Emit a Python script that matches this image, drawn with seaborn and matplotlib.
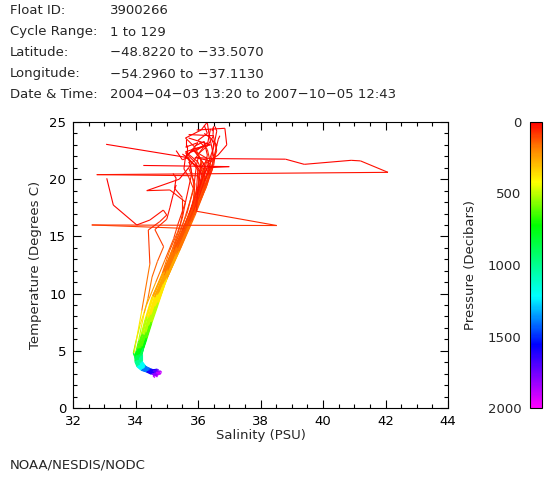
import numpy as np
import matplotlib
matplotlib.use("Agg")
import matplotlib.pyplot as plt
import seaborn as sns
from matplotlib.collections import LineCollection
from matplotlib.colors import LinearSegmentedColormap, Normalize

# Cabeçalho do perfil
header_labels = ["Float ID:", "Cycle Range:", "Latitude:", "Longitude:", "Date & Time:"]
header_values = ["3900266", "1 to 129", "\u221248.8220 to \u221233.5070",
                 "\u221254.2960 to \u221237.1130",
                 "2004\u221204\u221203 13:20 to 2007\u221210\u221205 12:43"]

# Níveis de pressão padrão (dbar)
levels = [5, 15, 30, 60, 90, 120, 170, 250, 380, 500, 620, 750, 880, 1000,
          1200, 1400, 1600, 1700, 1800, 1900, 2000]

# Perfis: pressão, salinidade e temperatura
pressure_profiles = [levels] * 26 + [
    [5, 10, 15, 20, 25, 30, 35, 45, 60, 90, 120, 170, 250, 380, 500, 620, 750,
     880, 1000, 1200, 1400, 1600, 1800, 2000],
    [5, 15, 30, 45, 60, 75, 90, 120, 170, 250, 380, 500, 620, 750, 880, 1000,
     1200, 1400, 1600, 1800, 2000],
    levels,
    [5, 10, 20, 30, 40, 50, 60, 80, 170, 380, 880, 1000, 1200, 1400, 1600, 1800, 2000],
    [5, 8, 12, 18, 25, 30, 45, 60, 90, 120, 170, 250, 380, 500, 620, 750, 880,
     1000, 1200, 1400, 1600, 1800, 2000],
    [5, 10, 15, 30, 60, 90, 120, 170, 250, 380, 500, 620, 750, 880, 1000, 1200,
     1400, 1600, 1800, 2000],
    [5, 15, 30, 45, 60, 90, 120, 170, 250, 380, 500, 620, 750, 880, 1000, 1200,
     1400, 1600, 1800, 2000],
    [5, 15, 30, 60, 90, 120, 145, 170, 250, 380, 500, 620, 750, 880, 1000, 1200,
     1400, 1600, 1800, 2000],
]

salinity_profiles = [
    [36.55, 36.6, 36.5, 36.15, 35.85, 35.62, 35.3, 35.02, 34.72, 34.5, 34.33, 34.2, 34.12, 34.08, 34.12, 34.26, 34.42, 34.55, 34.62, 34.7, 34.74],
    [36.45, 36.5, 36.45, 36.3, 36.0, 35.72, 35.38, 35.08, 34.78, 34.55, 34.38, 34.25, 34.16, 34.12, 34.15, 34.3, 34.45, 34.6, 34.7, 34.76, 34.8],
    [36.35, 36.35, 36.34, 36.3, 36.05, 35.8, 35.45, 35.12, 34.82, 34.58, 34.4, 34.27, 34.18, 34.14, 34.18, 34.32, 34.48, 34.58, 34.66, 34.74, 34.78],
    [35.8, 35.95, 36.1, 36.0, 35.75, 35.55, 35.25, 34.95, 34.62, 34.42, 34.28, 34.15, 34.06, 34.02, 34.06, 34.2, 34.36, 34.48, 34.56, 34.62, 34.66],
    [36.3, 36.35, 36.5, 36.45, 36.1, 35.82, 35.45, 35.12, 34.8, 34.55, 34.36, 34.22, 34.14, 34.1, 34.13, 34.28, 34.44, 34.56, 34.64, 34.72, 34.76],
    [36.05, 36.0, 35.95, 35.85, 35.6, 35.45, 35.15, 34.85, 34.5, 34.3, 34.16, 34.05, 34.0, 34.0, 34.06, 34.2, 34.36, 34.5, 34.6, 34.66, 34.7],
    [35.7, 35.75, 35.8, 35.6, 35.35, 35.22, 34.95, 34.65, 34.35, 34.15, 34.02, 33.93, 33.97, 34.02, 34.08, 34.22, 34.38, 34.5, 34.58, 34.64, 34.7],
    [36.7, 36.65, 36.55, 36.4, 36.15, 35.9, 35.55, 35.25, 34.95, 34.72, 34.52, 34.36, 34.26, 34.2, 34.22, 34.34, 34.5, 34.64, 34.72, 34.8, 34.84],
    [35.9, 36.2, 36.3, 36.05, 35.78, 35.58, 35.28, 34.98, 34.65, 34.45, 34.3, 34.18, 34.1, 34.06, 34.1, 34.24, 34.4, 34.52, 34.6, 34.68, 34.72],
    [36.2, 36.4, 36.6, 36.5, 36.25, 35.95, 35.58, 35.22, 34.9, 34.64, 34.44, 34.3, 34.2, 34.16, 34.18, 34.3, 34.46, 34.58, 34.68, 34.74, 34.78],
    [36.0, 36.1, 36.15, 36.1, 35.9, 35.65, 35.32, 35.0, 34.68, 34.46, 34.3, 34.18, 34.08, 34.05, 34.1, 34.24, 34.4, 34.52, 34.6, 34.66, 34.7],
    [36.3, 35.9, 36.2, 36.2, 35.95, 35.7, 35.36, 35.04, 34.74, 34.5, 34.35, 34.22, 34.13, 34.1, 34.14, 34.28, 34.44, 34.56, 34.66, 34.72, 34.76],
    [35.7, 36.4, 35.8, 36.3, 36.1, 35.8, 35.42, 35.1, 34.8, 34.56, 34.38, 34.25, 34.16, 34.12, 34.16, 34.3, 34.46, 34.56, 34.64, 34.7, 34.74],
    [35.5, 35.6, 35.8, 36.2, 35.95, 35.72, 35.4, 35.08, 34.76, 34.52, 34.36, 34.23, 34.14, 34.1, 34.13, 34.27, 34.43, 34.54, 34.62, 34.68, 34.72],
    [36.45, 36.5, 36.48, 36.6, 36.3, 36.0, 35.6, 35.23, 34.9, 34.65, 34.46, 34.32, 34.22, 34.18, 34.2, 34.32, 34.48, 34.6, 34.7, 34.78, 34.82],
    [35.6, 35.6, 35.9, 36.2, 35.95, 35.7, 35.36, 35.05, 34.7, 34.47, 34.32, 34.19, 34.1, 34.06, 34.1, 34.24, 34.4, 34.52, 34.6, 34.66, 34.7],
    [35.65, 35.65, 36.2, 35.7, 35.9, 35.85, 35.6, 35.28, 34.92, 34.68, 34.47, 34.32, 34.22, 34.17, 34.2, 34.32, 34.47, 34.58, 34.66, 34.72, 34.76],
    [36.3, 36.1, 35.6, 35.9, 36.1, 36.2, 35.75, 35.3, 34.95, 34.7, 34.5, 34.35, 34.25, 34.2, 34.22, 34.34, 34.5, 34.6, 34.68, 34.74, 34.78],
    [35.3, 35.5, 35.7, 35.8, 35.9, 35.8, 35.48, 35.15, 34.84, 34.6, 34.4, 34.26, 34.17, 34.12, 34.15, 34.28, 34.44, 34.56, 34.64, 34.7, 34.74],
    [35.7, 36.5, 36.3, 36.0, 36.35, 36.1, 35.7, 35.32, 34.96, 34.7, 34.5, 34.34, 34.24, 34.18, 34.2, 34.33, 34.48, 34.6, 34.7, 34.76, 34.8],
    [35.2, 35.3, 35.25, 35.5, 35.5, 35.42, 35.18, 34.9, 34.58, 34.38, 34.24, 34.12, 34.05, 34.02, 34.06, 34.2, 34.36, 34.48, 34.56, 34.62, 34.68],
    [36.4, 36.3, 35.6, 36.0, 36.2, 35.95, 35.55, 35.2, 34.88, 34.62, 34.42, 34.28, 34.2, 34.15, 34.18, 34.3, 34.45, 34.58, 34.66, 34.72, 34.76],
    [35.6, 35.6, 36.0, 35.65, 36.0, 36.05, 35.72, 35.35, 34.95, 34.68, 34.48, 34.32, 34.22, 34.16, 34.12, 34.3, 34.45, 34.7, 34.55, 34.8, 34.6],
    [36.2, 36.3, 36.0, 36.3, 36.4, 36.3, 35.9, 35.45, 35.02, 34.74, 34.52, 34.36, 34.26, 34.2, 34.2, 34.3, 34.42, 34.52, 34.64, 34.58, 34.75],
    [35.9, 35.6, 35.55, 35.7, 35.85, 35.65, 35.25, 34.9, 34.55, 34.35, 34.2, 34.08, 34.0, 33.98, 34.05, 34.18, 34.35, 34.5, 34.66, 34.56, 34.62],
    [36.4, 35.9, 36.5, 36.35, 36.3, 36.15, 35.8, 35.4, 35.0, 34.72, 34.5, 34.34, 34.24, 34.18, 34.17, 34.3, 34.46, 34.56, 34.74, 34.66, 34.82],
    [36.5, 38.8, 39.4, 40.9, 41.2, 42.08, 32.76, 36.0, 36.1, 35.9, 35.68, 35.34, 35.04, 34.74, 34.5, 34.34, 34.21, 34.12, 34.08, 34.12, 34.26, 34.42, 34.6, 34.7],
    [36.2, 36.2, 36.1, 36.0, 35.95, 38.52, 32.6, 35.6, 35.3, 35.0, 34.7, 34.48, 34.33, 34.2, 34.12, 34.08, 34.12, 34.26, 34.42, 34.58, 34.68],
    [33.06, 35.64, 36.0, 35.95, 35.72, 35.5, 35.2, 34.92, 34.6, 34.4, 34.26, 34.13, 34.05, 34.02, 34.07, 34.2, 34.36, 34.48, 34.56, 34.64, 34.7],
    [33.08, 33.29, 34.04, 34.46, 34.89, 35.0, 34.78, 34.41, 34.46, 34.2, 33.95, 34.02, 34.1, 34.24, 34.4, 34.58, 34.68],
    [35.96, 36.86, 36.92, 36.64, 36.3, 36.4, 36.2, 36.05, 35.85, 35.65, 35.34, 35.03, 34.7, 34.48, 34.33, 34.2, 34.1, 34.06, 34.1, 34.24, 34.4, 34.58, 34.7],
    [34.25, 37.0, 36.3, 36.2, 35.95, 35.7, 35.5, 35.22, 34.93, 34.62, 34.42, 34.28, 34.16, 34.07, 34.03, 34.08, 34.22, 34.38, 34.56, 34.68],
    [35.7, 35.4, 34.36, 35.1, 35.6, 35.5, 35.35, 35.1, 34.86, 34.55, 34.36, 34.22, 34.1, 34.02, 34.0, 34.06, 34.2, 34.36, 34.54, 34.66],
    [35.3, 35.2, 35.1, 35.0, 34.62, 34.9, 34.7, 34.53, 34.4, 34.28, 34.18, 34.1, 34.02, 33.98, 34.0, 34.06, 34.2, 34.36, 34.52, 34.64],
]

temperature_profiles = [
    [24.6, 24.2, 22.8, 19.9, 17.6, 16.2, 14.2, 12.2, 10.1, 8.3, 6.7, 5.5, 4.8, 4.3, 3.8, 3.45, 3.3, 3.2, 3.1, 3.0, 2.9],
    [23.4, 23.1, 22.0, 20.3, 18.2, 16.6, 14.5, 12.4, 10.3, 8.5, 6.9, 5.6, 4.9, 4.4, 3.85, 3.5, 3.3, 3.25, 3.15, 3.05, 2.95],
    [21.2, 21.1, 21.0, 20.6, 19.0, 17.2, 14.9, 12.7, 10.6, 8.6, 7.0, 5.7, 5.0, 4.4, 3.9, 3.5, 3.35, 3.2, 3.3, 3.1, 3.0],
    [22.6, 22.3, 21.7, 19.4, 17.1, 15.7, 13.8, 11.8, 9.8, 8.0, 6.5, 5.3, 4.7, 4.2, 3.7, 3.4, 3.25, 3.1, 3.0, 2.9, 2.8],
    [24.9, 24.0, 22.0, 20.8, 18.8, 16.9, 14.7, 12.5, 10.4, 8.4, 6.8, 5.5, 4.8, 4.3, 3.8, 3.45, 3.3, 3.2, 3.35, 3.2, 3.05],
    [22.0, 21.8, 21.2, 19.0, 16.8, 15.5, 13.6, 11.6, 9.5, 7.7, 6.2, 5.1, 4.6, 4.1, 3.65, 3.35, 3.2, 3.05, 2.95, 2.85, 2.75],
    [21.5, 21.3, 20.5, 18.0, 16.0, 14.8, 13.0, 11.0, 9.0, 7.3, 5.9, 4.8, 4.5, 4.1, 3.6, 3.3, 3.15, 3.05, 2.95, 2.85, 2.7],
    [23.8, 23.5, 22.4, 20.6, 18.6, 17.0, 15.0, 12.9, 10.9, 9.0, 7.4, 6.0, 5.2, 4.6, 4.0, 3.6, 3.4, 3.3, 3.2, 3.25, 3.1],
    [22.9, 23.3, 22.1, 19.6, 17.4, 16.0, 14.0, 12.0, 9.9, 8.1, 6.6, 5.4, 4.7, 4.2, 3.75, 3.4, 3.25, 3.15, 3.05, 2.95, 2.85],
    [24.0, 23.6, 23.0, 21.2, 19.2, 17.5, 15.2, 13.0, 10.8, 8.8, 7.1, 5.8, 5.0, 4.5, 3.9, 3.5, 3.35, 3.25, 3.15, 3.05, 2.95],
    [20.8, 20.6, 20.2, 19.3, 17.8, 16.3, 14.3, 12.2, 10.0, 8.2, 6.6, 5.4, 4.7, 4.2, 3.7, 3.4, 3.25, 3.1, 3.0, 2.9, 2.8],
    [23.2, 22.4, 21.3, 19.8, 17.9, 16.4, 14.4, 12.3, 10.2, 8.3, 6.8, 5.5, 4.8, 4.3, 3.8, 3.45, 3.3, 3.2, 3.1, 3.2, 3.0],
    [23.6, 23.0, 22.6, 21.8, 19.5, 17.3, 14.8, 12.6, 10.5, 8.6, 7.0, 5.7, 4.95, 4.4, 3.85, 3.5, 3.3, 3.2, 3.1, 3.0, 2.9],
    [22.2, 22.0, 21.4, 20.9, 18.3, 16.7, 14.6, 12.5, 10.3, 8.4, 6.8, 5.5, 4.8, 4.3, 3.8, 3.45, 3.3, 3.2, 3.1, 3.0, 2.9],
    [24.2, 24.6, 23.9, 22.5, 20.0, 17.8, 15.3, 13.0, 10.8, 8.9, 7.2, 5.9, 5.1, 4.5, 3.95, 3.55, 3.35, 3.25, 3.15, 3.1, 3.0],
    [21.9, 22.3, 21.5, 20.0, 18.0, 16.5, 14.4, 12.3, 10.1, 8.2, 6.6, 5.35, 4.7, 4.2, 3.7, 3.4, 3.25, 3.1, 3.0, 2.9, 2.8],
    [23.0, 22.2, 22.9, 21.0, 19.6, 17.9, 15.6, 13.3, 11.0, 9.0, 7.3, 5.9, 5.1, 4.5, 3.9, 3.5, 3.3, 3.2, 3.1, 3.0, 2.9],
    [25.0, 24.3, 23.6, 22.8, 21.6, 19.4, 16.4, 13.6, 11.2, 9.2, 7.5, 6.1, 5.2, 4.6, 4.0, 3.6, 3.4, 3.25, 3.15, 3.05, 2.95],
    [22.5, 21.7, 21.9, 20.5, 19.0, 17.4, 15.0, 12.8, 10.6, 8.7, 7.1, 5.8, 5.0, 4.4, 3.85, 3.5, 3.3, 3.2, 3.1, 3.0, 2.9],
    [23.9, 23.8, 22.9, 22.2, 20.4, 18.3, 15.8, 13.4, 11.1, 9.1, 7.4, 6.0, 5.15, 4.55, 3.95, 3.55, 3.35, 3.25, 3.15, 3.05, 2.95],
    [20.5, 20.1, 19.2, 18.4, 17.0, 15.8, 13.9, 11.9, 9.8, 8.0, 6.5, 5.3, 4.65, 4.15, 3.7, 3.4, 3.2, 3.1, 3.0, 2.9, 2.8],
    [24.4, 23.0, 22.4, 21.5, 20.2, 18.0, 15.5, 13.2, 10.9, 8.9, 7.2, 5.9, 5.05, 4.45, 3.9, 3.5, 3.3, 3.2, 3.1, 3.0, 2.9],
    [23.5, 22.8, 23.2, 22.0, 20.8, 18.8, 16.0, 13.5, 11.0, 9.0, 7.3, 5.9, 5.1, 4.5, 3.95, 3.55, 3.3, 3.4, 3.0, 3.2, 2.75],
    [24.7, 24.0, 23.4, 22.6, 21.4, 19.6, 16.8, 14.0, 11.4, 9.3, 7.6, 6.2, 5.3, 4.7, 4.1, 3.7, 3.45, 3.3, 3.1, 2.9, 3.15],
    [22.7, 22.0, 20.9, 20.2, 19.2, 17.0, 14.3, 11.9, 9.7, 7.9, 6.4, 5.2, 4.55, 4.05, 3.6, 3.3, 3.15, 2.95, 3.1, 2.8, 2.65],
    [21.6, 21.9, 21.8, 21.3, 20.6, 19.2, 16.3, 13.7, 11.3, 9.2, 7.5, 6.1, 5.2, 4.6, 4.0, 3.6, 3.38, 3.25, 3.35, 3.1, 3.0],
    [21.8, 21.75, 21.3, 21.65, 21.6, 20.6, 20.4, 20.3, 19.6, 17.6, 16.3, 14.3, 12.2, 10.1, 8.2, 6.7, 5.4, 4.7, 4.2, 3.75, 3.4, 3.25, 3.05, 2.9],
    [21.5, 21.4, 21.0, 19.2, 17.2, 15.95, 16.0, 15.7, 14.1, 12.1, 10.0, 8.2, 6.7, 5.4, 4.7, 4.2, 3.75, 3.4, 3.22, 3.02, 2.88],
    [23.05, 21.9, 21.0, 19.0, 17.0, 15.6, 13.6, 11.6, 9.6, 7.8, 6.4, 5.2, 4.6, 4.1, 3.65, 3.35, 3.2, 3.1, 3.0, 2.9, 2.8],
    [20.08, 17.74, 16.0, 16.43, 17.3, 16.87, 16.3, 15.56, 12.6, 8.5, 4.78, 4.2, 3.7, 3.4, 3.22, 3.02, 2.88],
    [24.3, 24.45, 23.0, 22.1, 21.5, 21.0, 19.8, 18.6, 17.2, 15.9, 14.0, 12.0, 9.9, 8.1, 6.6, 5.4, 4.7, 4.2, 3.75, 3.4, 3.22, 3.02, 2.88],
    [21.2, 21.1, 21.0, 20.5, 18.6, 16.9, 15.5, 13.9, 11.9, 9.7, 7.9, 6.4, 5.2, 4.6, 4.15, 3.7, 3.38, 3.2, 3.0, 2.86],
    [21.0, 20.0, 19.0, 19.06, 18.0, 16.6, 15.4, 13.8, 11.8, 9.8, 8.0, 6.5, 5.2, 4.6, 4.1, 3.65, 3.35, 3.2, 3.0, 2.85],
    [19.5, 18.6, 17.5, 16.5, 15.6, 14.1, 12.8, 11.45, 9.6, 8.3, 7.0, 5.9, 5.0, 4.5, 4.1, 3.65, 3.35, 3.18, 3.0, 2.86],
]

cbar_ticks = [0, 500, 1000, 1500, 2000]

# Estilo
sns.set_style("ticks")
plt.rcParams["font.family"] = ["DejaVu Sans"]
plt.rcParams["font.size"] = 9

# Escala de cores tipo arco-íris (0 = vermelho, 2000 = magenta)
cmap = LinearSegmentedColormap.from_list("pressao", [
    (0.0, (1.0, 0.0, 0.0)), (0.09, (1.0, 0.5, 0.0)), (0.21, (1.0, 1.0, 0.0)),
    (0.36, (0.0, 1.0, 0.0)), (0.61, (0.0, 1.0, 1.0)), (0.78, (0.0, 0.0, 1.0)),
    (1.0, (1.0, 0.0, 1.0))])
norm = Normalize(vmin=0, vmax=2000)

fig = plt.figure(figsize=(5.6, 4.8), dpi=100)
ax = fig.add_axes([73 / 560, 72 / 480, 375 / 560, 286 / 480])

# cada segmento leva a cor da pressão do ponto de cima
for p, s, t in zip(pressure_profiles, salinity_profiles, temperature_profiles):
    pts = np.column_stack([s, t])
    segs = np.stack([pts[:-1], pts[1:]], axis=1)
    lc = LineCollection(segs, cmap=cmap, norm=norm, linewidths=0.8)
    lc.set_array(np.asarray(p[:-1], dtype=float))
    ax.add_collection(lc)

ax.set_xlim(32, 44)
ax.set_ylim(0, 25)
ax.set_xticks(range(32, 45, 2))
ax.set_yticks(range(0, 26, 5))
ax.set_xticks(np.arange(32, 44.01, 0.5), minor=True)
ax.set_yticks(range(0, 26), minor=True)
ax.tick_params(which="both", direction="in", top=True, right=True, colors="black",
               labelsize=9.5, pad=5, width=0.8)
ax.tick_params(which="major", length=6)
ax.tick_params(which="minor", length=3)
for sp in ax.spines.values():
    sp.set_color("black")
    sp.set_linewidth(0.8)
ax.set_xlabel("Salinity (PSU)", fontsize=9.5, labelpad=1)
ax.set_ylabel("Temperature (Degrees C)", fontsize=9.5, labelpad=5)

# Barra de cores
cax = fig.add_axes([530 / 560, 72 / 480, 12 / 560, 286 / 480])
sm = plt.cm.ScalarMappable(cmap=cmap, norm=norm)
cb = fig.colorbar(sm, cax=cax, ticks=cbar_ticks)
cax.invert_yaxis()
cax.yaxis.set_ticks_position("left")
cax.yaxis.set_label_position("left")
cax.tick_params(length=0, labelsize=9.5, pad=6)
cb.outline.set_edgecolor("black")
cb.outline.set_linewidth(0.8)
cb.set_label("Pressure (Decibars)", fontsize=9.5, labelpad=8)

# Textos do cabeçalho
rows_y = [10, 32, 53, 74, 95]
for lab, val, yy in zip(header_labels, header_values, rows_y):
    fig.text(10 / 560, 1 - yy / 480, lab, fontsize=9.5, va="center", ha="left")
    fig.text(110 / 560, 1 - yy / 480, val, fontsize=9.5, va="center", ha="left")

fig.text(10 / 560, 1 - 465 / 480, "NOAA/NESDIS/NODC", fontsize=9.5, va="center", ha="left")

fig.savefig("out.png", dpi=100)
